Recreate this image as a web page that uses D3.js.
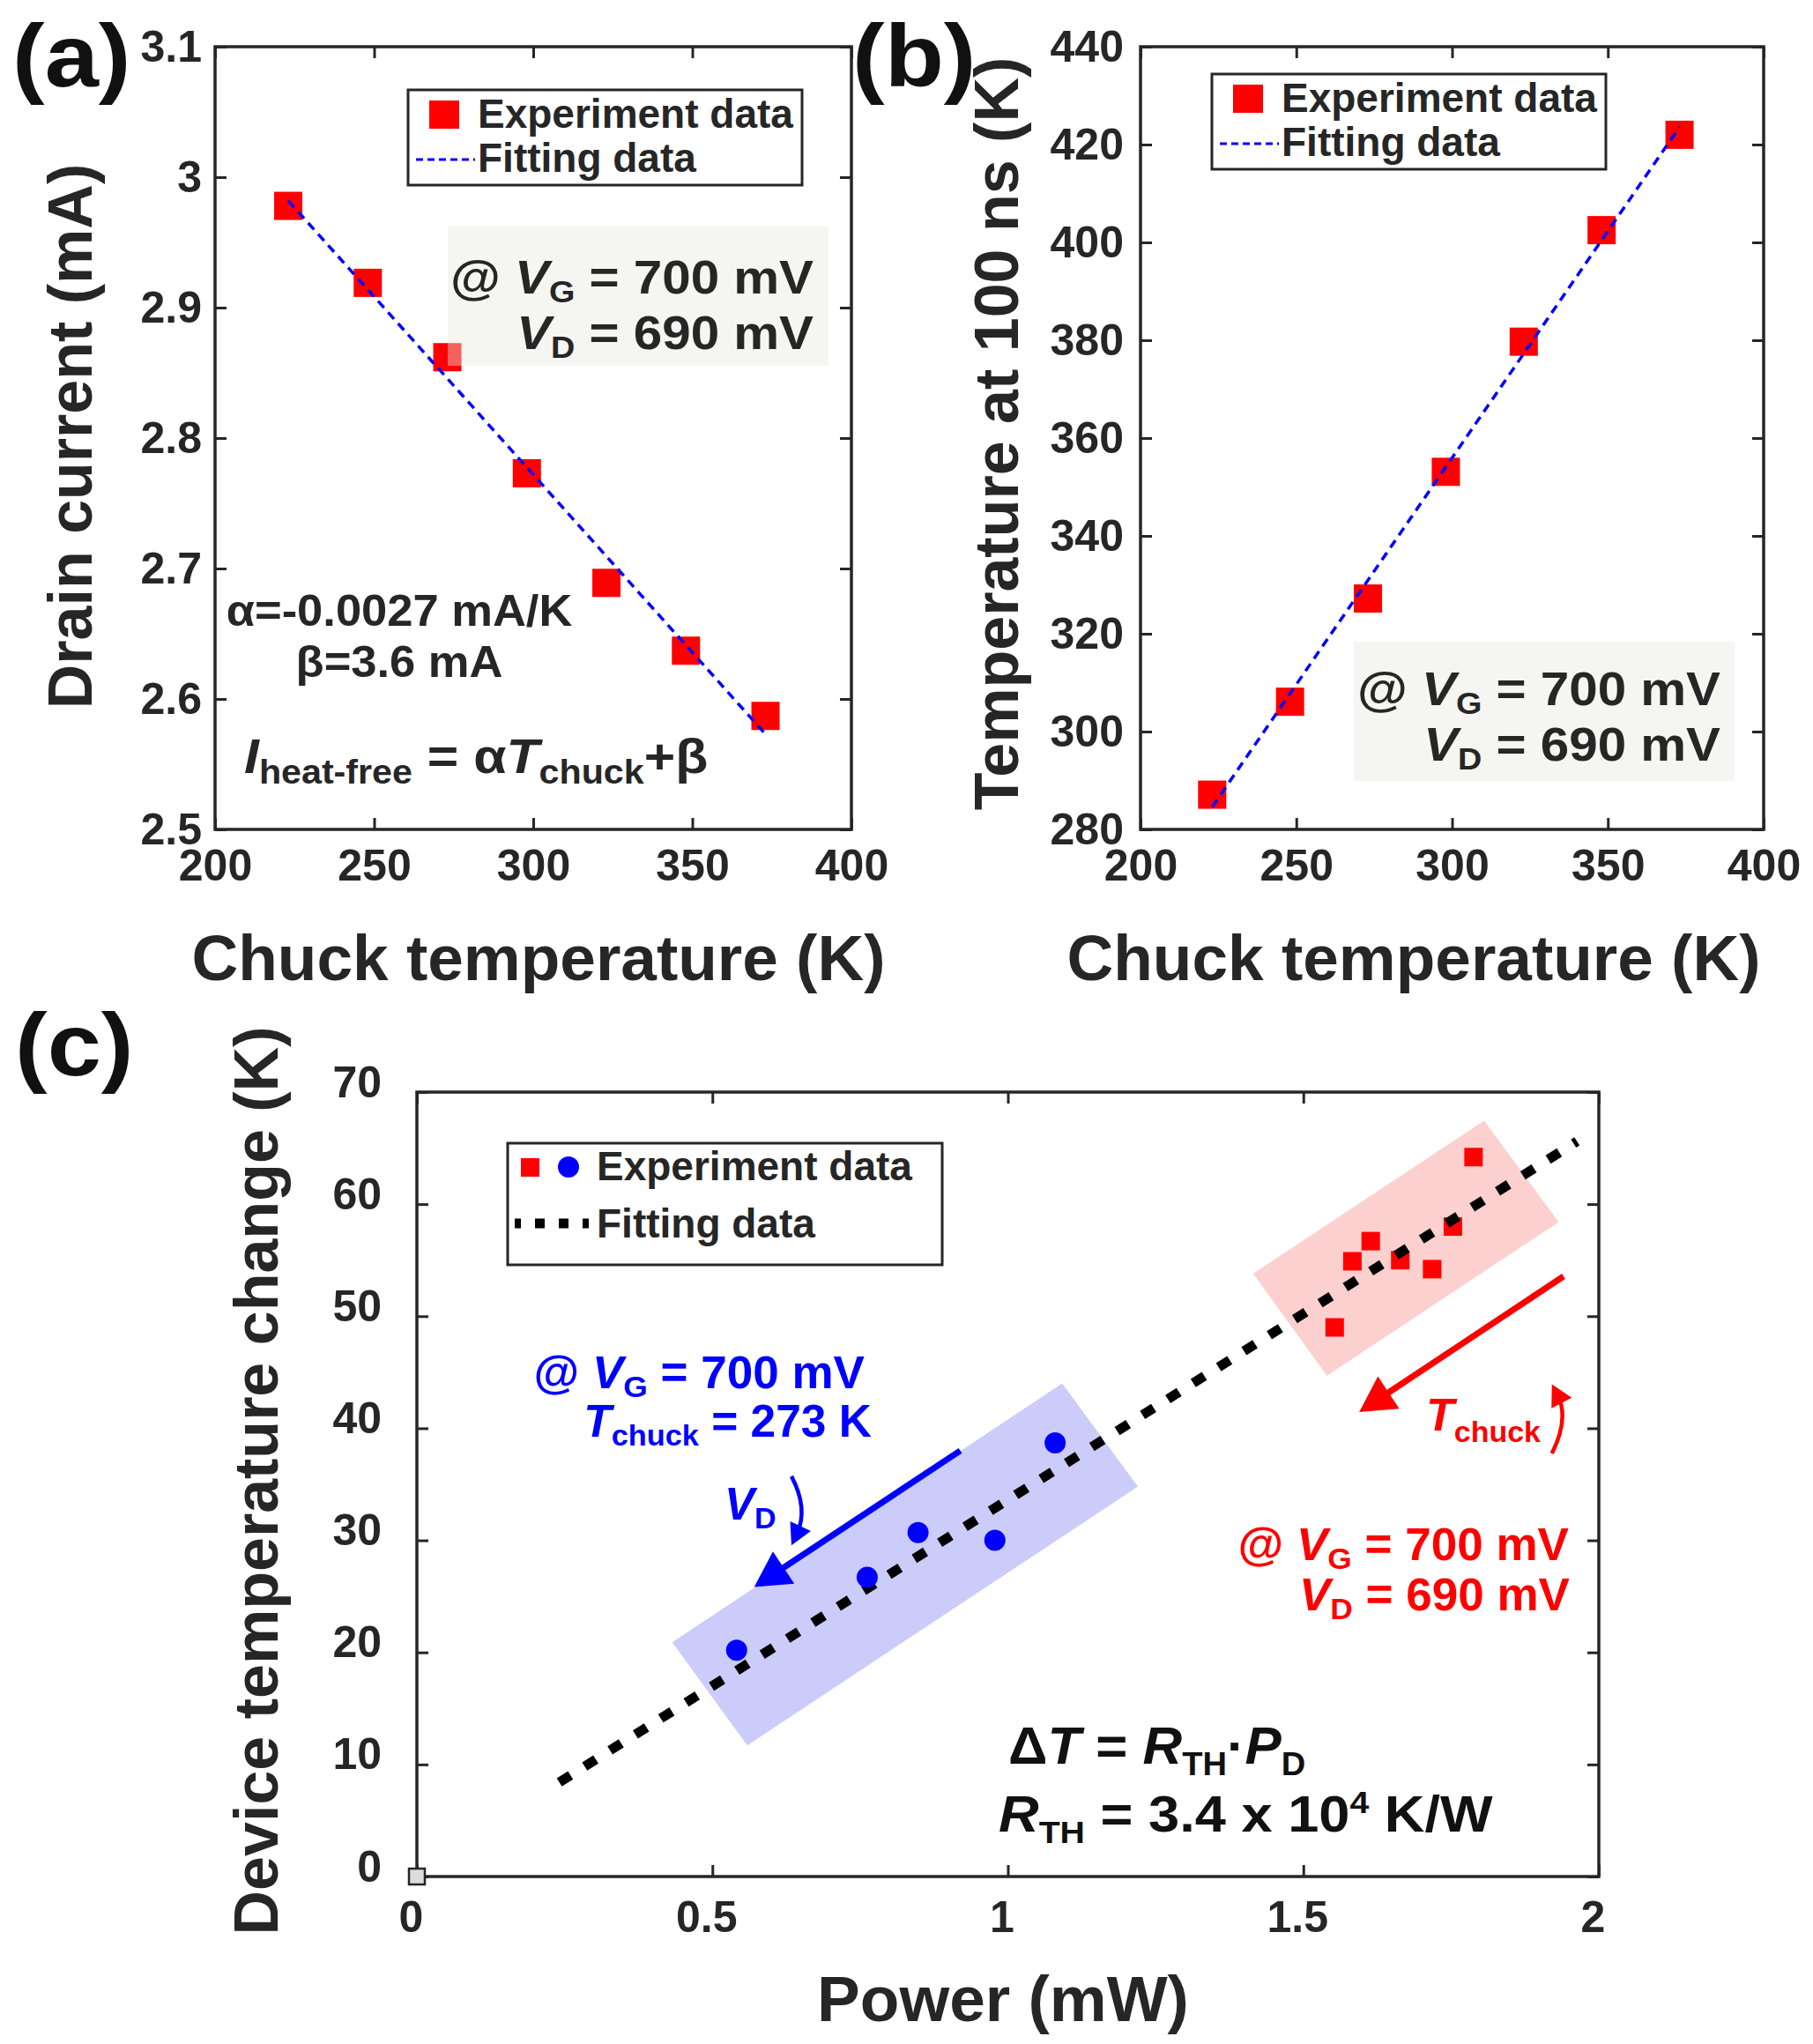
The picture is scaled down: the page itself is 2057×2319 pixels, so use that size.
<!DOCTYPE html>
<html>
<head>
<meta charset="utf-8">
<script src="https://cdn.jsdelivr.net/npm/d3@7"></script>
<style>
  body { margin: 0; background: #fff; }
  text { white-space: pre; }
</style>
</head>
<body>
<script>
// ---- data ----
const chuckT = [223, 248, 273, 298, 323, 348, 373]
const drainI = [2.978, 2.919, 2.862, 2.773, 2.689, 2.637, 2.587]
const fitAx = [223, 373]
const fitAy = [2.982, 2.573]

const temp100 = [287.1, 306.1, 327.2, 353.1, 379.7, 402.5, 422.0]
const fitBx = [223, 373]
const fitBy = [284.6, 423.6]

const vdPower = [0.541, 0.762, 0.848, 0.978, 1.080]
const vdDeltaT = [20.2, 26.7, 30.7, 30.0, 38.7]
const tcPower = [1.553, 1.583, 1.614, 1.664, 1.718, 1.753, 1.788]
const tcDeltaT = [49.0, 54.9, 56.7, 55.0, 54.2, 58.0, 64.2]
const fitCx = [0.241, 1.963]
const fitCy = [8.4, 65.6]
const originMark = [[0, 0]]

const tempTicks = [200, 250, 300, 350, 400]
const currentTicks = [2.5, 2.6, 2.7, 2.8, 2.9, 3.0, 3.1]
const temp100Ticks = [280, 300, 320, 340, 360, 380, 400, 420, 440]
const powerTicks = [0, 0.5, 1, 1.5, 2]
const deltaTicks = [0, 10, 20, 30, 40, 50, 60, 70]

// shaded groups and arrows of panel (c), in data units
const blueBand = [[0.432, 20.9], [1.092, 44.0], [1.220, 34.8], [0.559, 11.7]]
const redBand = [[1.415, 53.8], [1.806, 67.45], [1.932, 58.4], [1.540, 44.7]]

const W = 2057, H = 2319
const FONT = "'Liberation Sans', Arial, Helvetica, sans-serif"
const INK = '#262626'

const svg = d3.select('body').append('svg')
    .attr('width', W)
    .attr('height', H)
    .attr('font-family', FONT)

// text with italic / sub / super parts, optionally stretched horizontally
function rich(g, x, y, parts, o) {
    let t = g.append('g')
        .attr('transform', `translate(${x},${y}) scale(${o.sx || 1},1)`)
        .append('text')
        .attr('font-size', o.size)
        .attr('font-weight', 'bold')
        .attr('fill', o.fill || INK)
        .attr('text-anchor', o.anchor || 'start')
    let shift = 0
    parts.forEach(([s, st = '']) => {
        let off = st.includes('s') ? o.subDy : st.includes('u') ? -o.supDy : 0
        let ts = t.append('tspan').text(s).attr('dy', off - shift)
        shift = off
        if (st.includes('s') || st.includes('u')) ts.attr('font-size', o.subSize)
        if (st.includes('i')) ts.attr('font-style', 'italic')
    })
    return t
}

function frame(g, x, y, xt, yt, o) {
    let [x0, x1] = x.range(), [y0, y1] = y.range()
    let styleAxis = a => {
        a.select('.domain').remove()
        a.selectAll('line').attr('stroke', INK).attr('stroke-width', 3)
        a.selectAll('text')
            .attr('font-size', o.tickSize)
            .attr('font-weight', 'bold')
            .attr('font-family', FONT)
            .attr('fill', INK)
    }
    g.append('g').attr('transform', `translate(0,${y0})`)
        .call(d3.axisBottom(x).tickValues(xt).tickSize(-13).tickPadding(o.xPad).tickFormat(d3.format('')))
        .call(styleAxis)
        .selectAll('text').attr('dx', o.xDx || 0)
    g.append('g').attr('transform', `translate(0,${y1})`)
        .call(d3.axisTop(x).tickValues(xt).tickSize(-13).tickFormat(''))
        .call(styleAxis)
    g.append('g').attr('transform', `translate(${x0},0)`)
        .call(d3.axisLeft(y).tickValues(yt).tickSize(-13).tickPadding(o.yPad).tickFormat(d3.format('')))
        .call(styleAxis)
        .selectAll('text').attr('y', o.yDy || 0)
    g.append('g').attr('transform', `translate(${x1},0)`)
        .call(d3.axisRight(y).tickValues(yt).tickSize(-13).tickFormat(''))
        .call(styleAxis)
    g.append('rect')
        .attr('x', x0).attr('y', y1)
        .attr('width', x1 - x0).attr('height', y0 - y1)
        .attr('fill', 'none').attr('stroke', INK).attr('stroke-width', 3.5)
}

function squares(g, xs, ys, x, y, size, color) {
    g.append('g').selectAll('rect')
        .data(xs.map((v, i) => [v, ys[i]]))
        .enter().append('rect')
        .attr('x', d => x(d[0]) - size / 2)
        .attr('y', d => y(d[1]) - size / 2)
        .attr('width', size).attr('height', size)
        .attr('fill', color)
}

function fitLine(g, xs, ys, x, y, stroke, width, dash) {
    g.append('path')
        .datum(xs.map((v, i) => [v, ys[i]]))
        .attr('d', d3.line().x(d => x(d[0])).y(d => y(d[1])))
        .attr('fill', 'none')
        .attr('stroke', stroke)
        .attr('stroke-width', width)
        .attr('stroke-dasharray', dash)
}

function head(g, tx, ty, dx, dy, len, hw, color) {
    let n = Math.hypot(dx, dy), ux = dx / n, uy = dy / n
    let bx = tx - ux * len, by = ty - uy * len
    g.append('path')
        .attr('d', `M${tx},${ty}L${bx - uy * hw},${by + ux * hw}L${bx + uy * hw},${by - ux * hw}Z`)
        .attr('fill', color)
}

const legendFont = { size: 46, sx: 1.0 }

function legend(g, bx, by) {
    g.append('rect').attr('x', bx).attr('y', by).attr('width', 447).attr('height', 108)
        .attr('fill', '#fff').attr('stroke', INK).attr('stroke-width', 3)
    g.append('rect').attr('x', bx + 24).attr('y', by + 12).attr('width', 34).attr('height', 32).attr('fill', '#ff0000')
    g.append('line').attr('x1', bx + 9).attr('x2', bx + 76).attr('y1', by + 79).attr('y2', by + 79)
        .attr('stroke', '#0000ff').attr('stroke-width', 3).attr('stroke-dasharray', '8 5')
    rich(g, bx + 79, by + 43, [['Experiment data']], legendFont)
    rich(g, bx + 79, by + 93, [['Fitting data']], legendFont)
}

function condBox(g, bx, by, rx, y1) {
    g.append('rect').attr('x', bx).attr('y', by).attr('width', 432).attr('height', 158)
        .attr('fill', '#e6e6e0').attr('opacity', 0.42)
    let o = { size: 54, subSize: 35, subDy: 10, sx: 1.08, anchor: 'end' }
    rich(g, rx, y1, [['@ '], ['V', 'i'], ['G', 's'], [' = 700 mV']], o)
    rich(g, rx, y1 + 63, [['V', 'i'], ['D', 's'], [' = 690 mV']], o)
}

const xTitle = { size: 73, anchor: 'middle' }
const yTitle = { size: 70, anchor: 'middle' }
const panelTag = { size: 100, sx: 1.1, fill: '#111' }

// ---------------- panel (a) ----------------
{
    let g = svg.append('g')
    let x = d3.scaleLinear().domain([200, 400]).range([244, 966])
    let y = d3.scaleLinear().domain([2.5, 3.1]).range([941, 53])
    frame(g, x, y, tempTicks, currentTicks, { tickSize: 50, xPad: 22, yPad: 15 })
    squares(g, chuckT, drainI, x, y, 32, '#ff0000')
    fitLine(g, fitAx, fitAy, x, y, '#0000ff', 3.5, '10 7')
    legend(g, 463, 102)
    condBox(g, 508, 257, 923, 333)
    let ab = { size: 50, sx: 1.05, anchor: 'middle' }
    rich(g, 453, 710, [['α=-0.0027 mA/K']], ab)
    rich(g, 453, 768, [['β=3.6 mA']], ab)
    rich(g, 277, 877, [['I', 'i'], ['heat-free', 's'], [' = α'], ['T', 'i'], ['chuck', 's'], ['+β']],
        { size: 56, subSize: 38, subDy: 12, sx: 1.085 })
    g.append('g').attr('transform', 'translate(104,495) rotate(-90)')
        .call(s => rich(s, 0, 0, [['Drain current (mA)']], yTitle))
    rich(g, 611, 1112, [['Chuck temperature (K)']], xTitle)
    rich(g, 14, 98, [['(a)']], panelTag)
}

// ---------------- panel (b) ----------------
{
    let g = svg.append('g')
    let x = d3.scaleLinear().domain([200, 400]).range([1294, 2001])
    let y = d3.scaleLinear().domain([280, 440]).range([941, 53])
    frame(g, x, y, tempTicks, temp100Ticks, { tickSize: 50, xPad: 22, yPad: 19 })
    squares(g, chuckT, temp100, x, y, 32, '#ff0000')
    fitLine(g, fitBx, fitBy, x, y, '#0000ff', 3.5, '10 7')
    legend(g, 1375, 84)
    condBox(g, 1536, 728, 1952, 800)
    g.append('g').attr('transform', 'translate(1155,492) rotate(-90)')
        .call(s => rich(s, 0, 0, [['Temperature at 100 ns (K)']], yTitle))
    rich(g, 1604, 1112, [['Chuck temperature (K)']], xTitle)
    rich(g, 967, 98, [['(b)']], panelTag)
}

// ---------------- panel (c) ----------------
{
    let g = svg.append('g')
    let x = d3.scaleLinear().domain([0, 2]).range([473, 1814])
    let y = d3.scaleLinear().domain([0, 70]).range([2129, 1239])
    let px = d => [x(d[0]), y(d[1])]

    g.append('path').datum(blueBand).attr('d', d => 'M' + d.map(px).join('L') + 'Z').attr('fill', '#ccccfa')
    g.append('path').datum(redBand).attr('d', d => 'M' + d.map(px).join('L') + 'Z').attr('fill', '#fdd0d0')

    frame(g, x, y, powerTicks, deltaTicks, { tickSize: 50, xPad: 27, yPad: 40, xDx: -7, yDy: -11 })

    squares(g, tcPower, tcDeltaT, x, y, 21, '#ff0000')
    fitLine(g, fitCx, fitCy, x, y, '#000', 11, '15 19')
    g.append('g').selectAll('circle')
        .data(vdPower.map((v, i) => [v, vdDeltaT[i]]))
        .enter().append('circle')
        .attr('cx', d => x(d[0])).attr('cy', d => y(d[1])).attr('r', 12)
        .attr('fill', '#0000ff')
    g.append('g').selectAll('rect')
        .data(originMark).enter().append('rect')
        .attr('x', d => x(d[0]) - 9).attr('y', d => y(d[1]) - 9)
        .attr('width', 18).attr('height', 18)
        .attr('fill', '#dcdcdc').attr('stroke', INK).attr('stroke-width', 2.5)

    // straight arrows
    let arrow = (a, b, color) => {
        let [x1, y1] = px(a), [x2, y2] = px(b)
        let n = Math.hypot(x2 - x1, y2 - y1)
        let ex = x2 - (x2 - x1) / n * 32, ey = y2 - (y2 - y1) / n * 32
        g.append('line').attr('x1', x1).attr('y1', y1).attr('x2', ex).attr('y2', ey)
            .attr('stroke', color).attr('stroke-width', 7)
        head(g, x2, y2, x2 - x1, y2 - y1, 40, 22, color)
    }
    arrow([0.9195, 38.0], [0.5708, 25.83], '#0000ff')
    arrow([1.9404, 53.56], [1.5946, 41.45], '#ff0000')

    // curved arrows
    let curve = (a, c, b, color) => {
        let [x1, y1] = px(a), [cx, cy] = px(c), [x2, y2] = px(b)
        let n = Math.hypot(x2 - cx, y2 - cy)
        let ex = x2 - (x2 - cx) / n * 14, ey = y2 - (y2 - cy) / n * 14
        g.append('path').attr('d', `M${x1},${y1}Q${cx},${cy} ${ex},${ey}`)
            .attr('fill', 'none').attr('stroke', color).attr('stroke-width', 4.5)
        head(g, x2, y2, x2 - cx, y2 - cy, 24, 13, color)
    }
    curve([0.6338, 35.72], [0.663, 32.8], [0.6338, 29.56], '#0000ff')
    curve([1.9206, 37.75], [1.9504, 40.9], [1.9206, 43.93], '#ff0000')

    // legend
    g.append('rect').attr('x', 576).attr('y', 1297).attr('width', 493).attr('height', 138)
        .attr('fill', '#fff').attr('stroke', INK).attr('stroke-width', 3)
    g.append('rect').attr('x', 591).attr('y', 1314).attr('width', 21).attr('height', 21).attr('fill', '#ff0000')
    g.append('circle').attr('cx', 645).attr('cy', 1324).attr('r', 12).attr('fill', '#0000ff')
    g.append('line').attr('x1', 584).attr('x2', 668).attr('y1', 1388).attr('y2', 1388)
        .attr('stroke', '#000').attr('stroke-width', 11).attr('stroke-dasharray', '7 16 11 16 11 16 11')
    rich(g, 677, 1339, [['Experiment data']], legendFont)
    rich(g, 677, 1404, [['Fitting data']], legendFont)

    // annotations
    let ob = { size: 51, subSize: 34, subDy: 10, fill: '#0000ff', anchor: 'end', sx: 1.04 }
    rich(g, 981, 1575, [['@ '], ['V', 'i'], ['G', 's'], [' = 700 mV']], ob)
    rich(g, 989, 1630, [['T', 'i'], ['chuck', 's'], [' = 273 K']], Object.assign({}, ob, { sx: 1.01 }))
    rich(g, 822, 1724, [['V', 'i'], ['D', 's']], Object.assign({}, ob, { anchor: 'start', sx: 1 }))

    let or = { size: 51, subSize: 34, subDy: 10, fill: '#ff0000', anchor: 'end', sx: 1.04 }
    rich(g, 1780, 1770, [['@ '], ['V', 'i'], ['G', 's'], [' = 700 mV']], or)
    rich(g, 1781, 1827, [['V', 'i'], ['D', 's'], [' = 690 mV']], or)
    rich(g, 1618, 1623, [['T', 'i'], ['chuck', 's']], { size: 52, subSize: 34, subDy: 13, fill: '#ff0000' })

    rich(g, 1144, 2001, [['Δ'], ['T', 'i'], [' = '], ['R', 'i'], ['TH', 's'], ['·'], ['P', 'i'], ['D', 's']],
        { size: 60, subSize: 37, subDy: 13, fill: '#111', sx: 1.03 })
    rich(g, 1133, 2078, [['R', 'i'], ['TH', 's'], [' = 3.4 x 10'], ['4', 'u'], [' K/W']],
        { size: 58, subSize: 36, subDy: 13, supDy: 21, fill: '#111', sx: 1.09 })

    g.append('g').attr('transform', 'translate(315,1680) rotate(-90)')
        .call(s => rich(s, 0, 0, [['Device temperature change (K)']], yTitle))
    rich(g, 1138, 2293, [['Power (mW)']], xTitle)
    rich(g, 17, 1220, [['(c)']], panelTag)
}
</script>
</body>
</html>
